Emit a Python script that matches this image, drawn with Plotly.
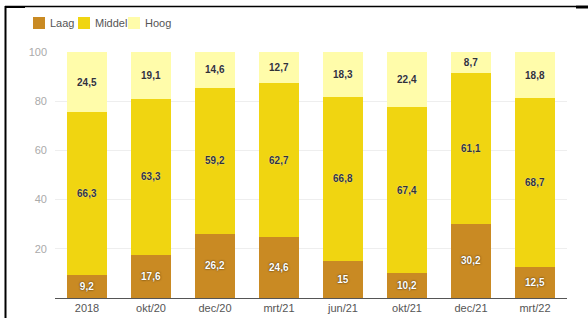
import plotly.graph_objects as go

categories = ["2018", "okt/20", "dec/20", "mrt/21", "jun/21", "okt/21", "dec/21", "mrt/22"]
laag = [9.2, 17.6, 26.2, 24.6, 15, 10.2, 30.2, 12.5]
middel = [66.3, 63.3, 59.2, 62.7, 66.8, 67.4, 61.1, 68.7]
hoog = [24.5, 19.1, 14.6, 12.7, 18.3, 22.4, 8.7, 18.8]

series = [
    ("Laag", laag, "#C98A23", "white", "0px 0px 2px rgba(0,0,0,0.8)"),
    ("Middel", middel, "#F0D511", "#333333", "0px 0px 1px rgba(255,255,255,0.9)"),
    ("Hoog", hoog, "#FFFCAA", "#333333", "0px 0px 1px rgba(255,255,255,0.9)"),
]

def fmt(v):
    return f"{v:g}".replace(".", ",")

FONT = "Liberation Sans, Arial, sans-serif"

fig = go.Figure()
for name, vals, color, tcolor, shadow in series:
    fig.add_trace(go.Bar(
        name=name, x=categories, y=vals,
        marker=dict(color=color, line=dict(width=0)),
        text=[fmt(v) for v in vals],
        textposition="inside", insidetextanchor="middle",
        textfont=dict(family=FONT, size=10, color=tcolor, weight="bold", shadow=shadow),
        hoverinfo="skip", showlegend=False,
    ))

L, R, T, B = 55, 21, 52, 20
W, H = 588, 318
pw, ph = W - L - R, H - T - B

def px(x):
    return (x - L) / pw

def py(y):
    return (H - B - y) / ph

# legend (drawn manually for tight spacing)
legend_x = [33, 78, 128]
shapes = []
annotations = []
for (name, vals, color, tcolor, shadow), lx in zip(series, legend_x):
    shapes.append(dict(type="rect", xref="paper", yref="paper",
                       x0=px(lx), x1=px(lx + 12), y0=py(17), y1=py(29),
                       fillcolor=color, line=dict(width=0)))
    annotations.append(dict(xref="paper", yref="paper", x=px(lx + 15), y=py(23),
                            xanchor="left", yanchor="middle", showarrow=False,
                            text=name, font=dict(family=FONT, size=11, color="#555555")))

shapes += [
    dict(type="line", xref="paper", yref="paper", x0=px(5.5), x1=px(5.5), y0=py(6), y1=py(320),
         line=dict(color="black", width=2)),
    dict(type="line", xref="paper", yref="paper", x0=px(5), x1=px(576), y0=py(6.5), y1=py(6.5),
         line=dict(color="black", width=1.5)),
    dict(type="line", xref="paper", yref="paper", x0=px(5), x1=px(25), y0=py(7), y1=py(7),
         line=dict(color="black", width=2)),
    dict(type="line", xref="paper", yref="paper", x0=px(576), x1=px(590), y0=py(7), y1=py(7),
         line=dict(color="black", width=3)),
]

fig.update_layout(
    barmode="stack", bargap=0.375,
    width=W, height=H,
    margin=dict(l=L, r=R, t=T, b=B, pad=0, autoexpand=False),
    paper_bgcolor="white", plot_bgcolor="white",
    font=dict(family=FONT, size=11, color="#555555"),
    uniformtext=dict(minsize=8, mode="show"),
    showlegend=False,
    xaxis=dict(showgrid=False, showline=True, linecolor="#555555", linewidth=1,
               ticks="", tickfont=dict(size=11, color="#555555"), automargin=False),
    yaxis=dict(range=[0, 100], tickvals=[20, 40, 60, 80, 100], showgrid=True,
               gridcolor="#EEEEEE", gridwidth=1, zeroline=False, showline=False,
               tickfont=dict(size=11, color="#AAAAAA"), ticks="", ticklabelstandoff=7,
               automargin=False),
    shapes=shapes,
    annotations=annotations,
)

fig.write_html("out.html", config={"displayModeBar": False, "staticPlot": True},
               post_script="document.body.style.margin='0';document.body.style.overflow='hidden';")
